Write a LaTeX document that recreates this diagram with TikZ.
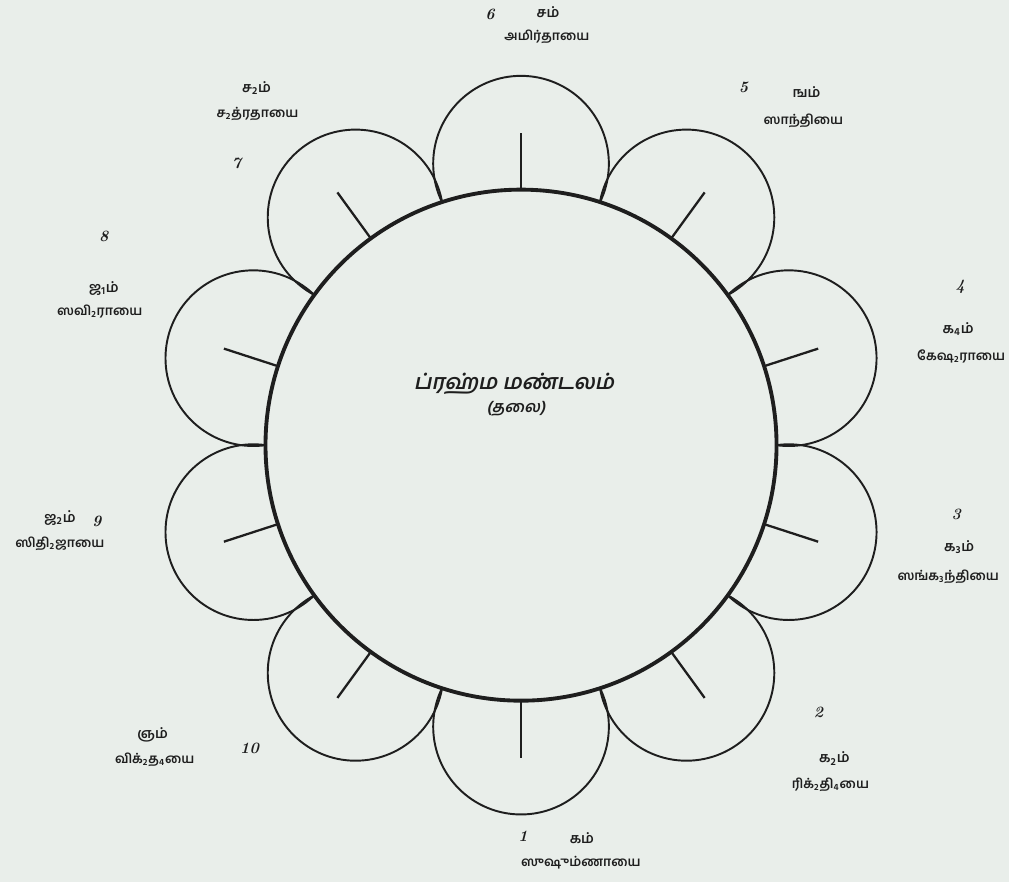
\documentclass[tikz,border=0pt]{standalone}
\usepackage{fontspec}
\newfontfamily\tamilfont[Script=Tamil]{Hind Madurai}
\newfontfamily\tamilslant[Script=Tamil,FakeSlant=0.2]{Hind Madurai}
\usetikzlibrary{calc}
\definecolor{paper}{HTML}{E9EEEA}
\definecolor{ink}{HTML}{1E1E1E}
\newcommand{\subn}[1]{\textsubscript{#1}}

\begin{document}
\begin{tikzpicture}[x=.02cm,y=-.02cm,
  petal/.style={ink,line width=1.1pt},
  spoke/.style={ink,line width=1.3pt},
  num/.style={ink,font=\small\itshape\bfseries},
  bija/.style={ink,font=\tamilfont\bfseries\fontsize{8}{9}\selectfont},
  word/.style={ink,font=\tamilfont\bfseries\fontsize{7.5}{9}\selectfont}]
  \fill[paper] (0,0) rectangle (1011,884);
  \coordinate (c) at (522,446);
  % petals
  \foreach \k in {1,...,10}
    \draw[petal] ($(c)+(126-36*\k:282)$) circle (88);
  \fill[paper] (c) circle (256);
  \draw[ink,line width=2.2pt] (c) circle (256);
  \foreach \k in {1,...,10}
    \draw[spoke] ($(c)+(126-36*\k:256)$) -- ($(c)+(126-36*\k:313)$);
  % centre
  \node[ink,font=\tamilslant\bfseries\fontsize{12}{14}\selectfont] (title) at (515,385) {ப்ரஹ்ம மண்டலம்};
  \node[ink,font=\tamilslant\bfseries\fontsize{9}{11}\selectfont] (head) at (517,410) {(தலை)};
  % labels
  \node[num] (n1) at (524,838) {1};
  \node[bija] (b1) at (583,840) {கம்};
  \node[word] (w1) at (582,864) {ஸுஷும்ணாயை};
  \node[num] (n2) at (820,714) {2};
  \node[bija] (b2) at (836,760) {க\subn{2}ம்};
  \node[word] (w2) at (832,786) {ரிக்\subn{2}தி\subn{4}யை};
  \node[num] (n3) at (958,515) {3};
  \node[bija] (b3) at (961,548) {க\subn{3}ம்};
  \node[word] (w3) at (950,578) {ஸங்க\subn{3}ந்தியை};
  \node[num] (n4) at (962,287) {4};
  \node[bija] (b4) at (960,330) {க\subn{4}ம்};
  \node[word] (w4) at (963,357) {கேஷ\subn{2}ராயை};
  \node[num] (n5) at (745,88) {5};
  \node[bija] (b5) at (808,92) {ஙம்};
  \node[word] (w5) at (805,121) {ஸாந்தியை};
  \node[num] (n6) at (491,14) {6};
  \node[bija] (b6) at (549,12) {சம்};
  \node[word] (w6) at (548,37) {அமிர்தாயை};
  \node[num] (n7) at (237,164) {7};
  \node[bija] (b7) at (257,88) {ச\subn{2}ம்};
  \node[word] (w7) at (258,114) {ச\subn{2}த்ரதாயை};
  \node[num] (n8) at (104,237) {8};
  \node[bija] (b8) at (104,289) {ஜ\subn{1}ம்};
  \node[word] (w8) at (100,312) {ஸவி\subn{2}ராயை};
  \node[num] (n9) at (97,522) {9};
  \node[bija] (b9) at (60,519) {ஜ\subn{2}ம்};
  \node[word] (w9) at (60,545) {ஸிதி\subn{2}ஜாயை};
  \node[num] (n10) at (250,750) {10};
  \node[bija] (b10) at (153,736) {ஞம்};
  \node[word] (w10) at (155,761) {விக்\subn{2}த\subn{4}யை};
\end{tikzpicture}
\end{document}
